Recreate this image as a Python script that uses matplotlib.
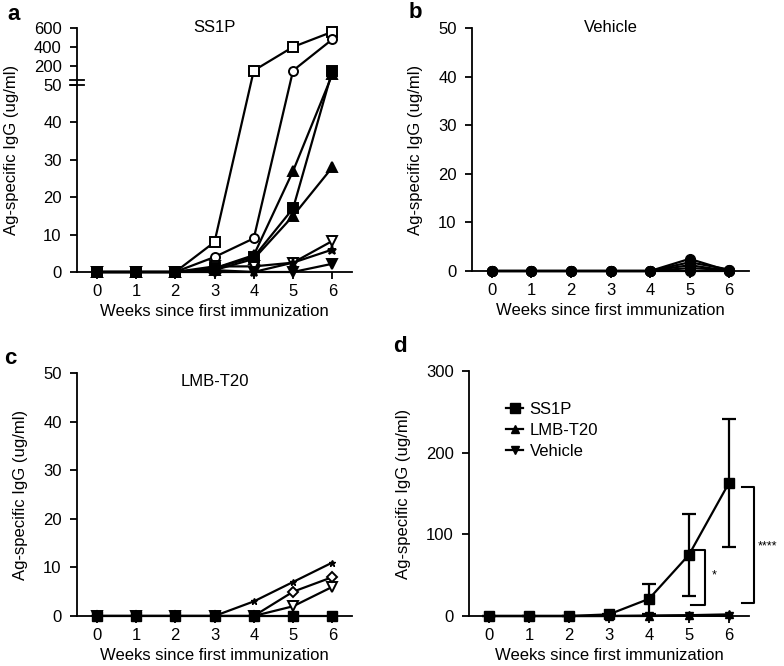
import numpy as np
import matplotlib
matplotlib.use('Agg')
import matplotlib.pyplot as plt

plt.rcParams['font.family'] = ['Liberation Sans', 'DejaVu Sans']
plt.rcParams['font.size'] = 11

weeks = [0, 1, 2, 3, 4, 5, 6]

# panel a - SS1P individual mice
ss1p_mice = {
    'open_sq':  [0, 0, 0, 8, 150, 400, 560],
    'open_o':   [0, 0, 0, 4, 9, 150, 480],
    'tri_a':    [0, 0, 0, 1, 4.5, 27, 110],
    'tri_b':    [0, 0, 0, 0.5, 3.5, 15, 28],
    'open_v':   [0, 0, 0, 1.5, 1.5, 2.5, 8.3],
    'star':     [0, 0, 0, 0.5, 0, 2.5, 6],
    'fill_v':   [0, 0, 0, 0, 0, 0, 2.2],
    'fill_sq':  [0, 0, 0, 1, 4, 17, 150],
}
# panel b - Vehicle
vehicle_mice = [
    [0, 0, 0, 0, 0, 2.5, 0],
    [0, 0, 0, 0, 0, 1.8, 0.3],
    [0, 0, 0, 0, 0, 1.2, 0],
    [0, 0, 0, 0, 0, 0.6, 0.2],
    [0, 0, 0, 0, 0, 0, 0],
]
# panel c - LMB-T20
lmb_star = [0, 0, 0, 0, 3, 7, 11]
lmb_diam = [0, 0, 0, 0, 0, 5, 8]
lmb_tri = [0, 0, 0, 0, 0, 2, 6]
lmb_sq = [0, 0, 0, 0, 0, 0, 0]
# panel d - group means
mean_ss1p = [0, 0, 0, 2, 21, 75, 163]
err_ss1p = [0, 0, 0, 1, 18, 50, 78]
mean_lmb = [0, 0, 0, 0, 0.5, 1, 2]
mean_veh = [0, 0, 0, 0, 0, 0.5, 0]

xlab = 'Weeks since first immunization'
ylab = 'Ag-specific IgG (ug/ml)'

# broken y axis for panel a
GAP = 1.34
K = 0.02528


def fwd(y):
    y = np.asarray(y, float)
    return np.where(y <= 50, y, 50 + GAP + (y - 50) * K)


def inv(t):
    t = np.asarray(t, float)
    return np.where(t <= 50, t, np.where(t < 50 + GAP, 50, 50 + (t - 50 - GAP) / K))


def style(ax):
    ax.spines['top'].set_visible(False)
    ax.spines['right'].set_visible(False)
    ax.spines['left'].set_linewidth(1.3)
    ax.spines['bottom'].set_linewidth(1.3)
    ax.tick_params(width=1.3, length=5, labelsize=12)
    ax.tick_params(axis='y', pad=6)
    ax.set_xlim(-0.5, 6.5)
    ax.set_xticks(weeks)
    ax.set_xlabel(xlab, fontsize=12, labelpad=4)
    ax.set_ylabel(ylab, fontsize=12, labelpad=11)


fig = plt.figure(figsize=(7.84, 6.66), dpi=100)
W, H = 784, 666


def add_ax(l, t, r, b):
    return fig.add_axes([l / W, 1 - b / H, (r - l) / W, (b - t) / H])


axa = add_ax(77, 28, 352, 272)
axb = add_ax(472, 28, 749, 271)
axc = add_ax(77, 373, 352, 616)
axd = add_ax(469, 371, 749, 616)

lw = 1.6
# ---- a
axa.set_yscale('function', functions=(fwd, inv))
mk = {'open_sq': ('s', 'white'), 'open_o': ('o', 'white'), 'tri_a': ('^', 'black'),
      'tri_b': ('^', 'black'), 'open_v': ('v', 'white'), 'star': ('*', 'black'),
      'fill_v': ('v', 'black'), 'fill_sq': ('s', 'black')}
for k, vals in ss1p_mice.items():
    m, fc = mk[k]
    axa.plot(weeks, vals, color='black', lw=lw, marker=m, ms=6.5, mfc=fc,
             mec='black', mew=1.4, zorder=3, clip_on=False)
axa.set_ylim(0, 600)
axa.set_yticks([0, 10, 20, 30, 40, 50, 200, 400, 600])
axa.axhspan(50, 50.001, color='white', zorder=2.5)
tr = axa.get_yaxis_transform()
axa.plot([-0.025, 0.025], [50, 50], transform=tr, color='black', lw=1.3, clip_on=False, zorder=5)
axa.plot([-0.025, 0.025], [50.001, 50.001], transform=tr, color='black', lw=1.3, clip_on=False, zorder=5)
axa.text(3, 1.0, 'SS1P', transform=axa.get_xaxis_transform(), ha='center', va='center', fontsize=12)
style(axa)

# ---- b
for vals in vehicle_mice:
    axb.plot(weeks, vals, color='black', lw=lw, marker='o', ms=7, zorder=3, clip_on=False)
axb.set_ylim(0, 50)
axb.set_yticks([0, 10, 20, 30, 40, 50])
axb.text(3, 1.0, 'Vehicle', transform=axb.get_xaxis_transform(), ha='center', va='center', fontsize=12)
style(axb)

# ---- c
axc.plot(weeks, lmb_star, color='black', lw=lw, marker='*', ms=5, zorder=3)
axc.plot(weeks, lmb_tri, color='black', lw=lw, marker='v', ms=6.5, mfc='white', mew=1.4, zorder=3)
axc.plot(weeks, lmb_diam, color='black', lw=lw, marker='D', ms=5.5, mfc='white', mew=1.4, zorder=3)
axc.plot(weeks, lmb_sq, color='black', lw=lw, marker='s', ms=7, zorder=4, clip_on=False)
axc.set_ylim(0, 50)
axc.set_yticks([0, 10, 20, 30, 40, 50])
axc.text(3, 0.963, 'LMB-T20', transform=axc.get_xaxis_transform(), ha='center', va='center', fontsize=12)
style(axc)

# ---- d
eb = axd.errorbar(weeks, mean_ss1p, yerr=err_ss1p, color='black', lw=lw, marker='s', ms=7,
                  capsize=5, capthick=1.6, elinewidth=1.6, zorder=3, clip_on=False)
l_lmb, = axd.plot(weeks, mean_lmb, color='black', lw=lw, marker='^', ms=6, zorder=3, clip_on=False)
l_veh, = axd.plot(weeks, mean_veh, color='black', lw=lw, marker='v', ms=6, zorder=3, clip_on=False)
axd.set_ylim(0, 300)
axd.set_yticks([0, 100, 200, 300])
style(axd)
axd.legend([eb.lines[0], l_lmb, l_veh], ['SS1P', 'LMB-T20', 'Vehicle'], loc='upper left',
           bbox_to_anchor=(0.08, 0.935), frameon=False, fontsize=12, handlelength=1.0,
           handletextpad=0.4, labelspacing=0.35)

# significance brackets
axd.plot([5.05, 5.4, 5.4, 5.05], [80.5, 80.5, 14, 14], color='black', lw=1.5, clip_on=False)
axd.text(5.62, 50, '*', ha='center', va='center', fontsize=9)
axd.plot([6.33, 6.63, 6.63, 6.33], [158, 158, 16, 16], color='black', lw=1.5, clip_on=False)
axd.text(6.72, 85, '****', ha='left', va='center', fontsize=9, clip_on=False)

# panel letters
for x, y, s in [(14, 15, 'a'), (415, 13, 'b'), (10, 358, 'c'), (400, 347, 'd')]:
    fig.text(x / W, 1 - y / H, s, fontsize=16, fontweight='bold', ha='center', va='center')

fig.savefig('out.png', dpi=100)
